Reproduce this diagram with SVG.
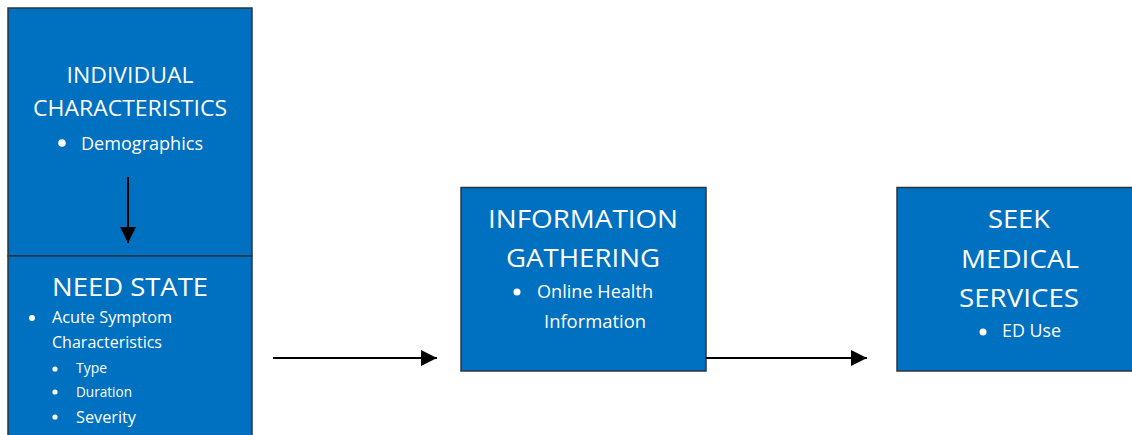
<svg xmlns="http://www.w3.org/2000/svg" width="1132" height="435" viewBox="0 0 1132 435">
  <style>
    .box { fill: #0070C0; stroke: #2b3440; stroke-width: 1.5; }
    text { font-family: "Open Sans", "Noto Sans", "Liberation Sans", sans-serif; fill: #ffffff; }
    .h1 { font-size: 22px; text-anchor: middle; }
    .h2 { font-size: 26px; text-anchor: middle; }
    .b18 { font-size: 18px; }
    .b16 { font-size: 16px; }
    .b14 { font-size: 14px; }
    .dot { fill: #ffffff; }
    .conn { stroke: #000000; stroke-width: 2; fill: none; }
  </style>
  <defs>
    <marker id="arrow" markerWidth="8" markerHeight="8" refX="8" refY="4" orient="auto" markerUnits="strokeWidth">
      <path d="M0,0 L8,4 L0,8 Z" fill="#000000"/>
    </marker>
  </defs>

  <rect width="1132" height="435" fill="#ffffff"/>

  <!-- Individual characteristics -->
  <g id="individual">
    <rect class="box" x="8" y="8" width="244" height="248"/>
    <text class="h1" x="130" y="83" textLength="127" lengthAdjust="spacingAndGlyphs">INDIVIDUAL</text>
    <text class="h1" x="130" y="116" textLength="194" lengthAdjust="spacingAndGlyphs">CHARACTERISTICS</text>
    <circle class="dot" cx="62" cy="143" r="3.8"/>
    <text class="b18" x="81" y="150" textLength="122" lengthAdjust="spacingAndGlyphs">Demographics</text>
  </g>

  <!-- Need state -->
  <g id="need-state">
    <rect class="box" x="8" y="256" width="244" height="190"/>
    <text class="h2" x="130" y="296" textLength="156" lengthAdjust="spacingAndGlyphs">NEED STATE</text>
    <circle class="dot" cx="32" cy="318" r="3"/>
    <text class="b16" x="52" y="323" textLength="120" lengthAdjust="spacingAndGlyphs">Acute Symptom</text>
    <text class="b16" x="52" y="348" textLength="110" lengthAdjust="spacingAndGlyphs">Characteristics</text>
    <circle class="dot" cx="55" cy="369" r="2.6"/>
    <text class="b14" x="76" y="373" textLength="31" lengthAdjust="spacingAndGlyphs">Type</text>
    <circle class="dot" cx="55" cy="392" r="2.6"/>
    <text class="b14" x="76" y="397" textLength="56" lengthAdjust="spacingAndGlyphs">Duration</text>
    <circle class="dot" cx="55" cy="417" r="2.6"/>
    <text class="b16" x="76" y="423" textLength="60" lengthAdjust="spacingAndGlyphs">Severity</text>
  </g>

  <!-- Information gathering -->
  <g id="information-gathering">
    <rect class="box" x="461" y="187.5" width="245" height="183.5"/>
    <text class="h2" x="583" y="228" textLength="190" lengthAdjust="spacingAndGlyphs">INFORMATION</text>
    <text class="h2" x="583" y="267" textLength="154" lengthAdjust="spacingAndGlyphs">GATHERING</text>
    <circle class="dot" cx="517" cy="292" r="3.5"/>
    <text class="b18" x="537" y="298" textLength="116" lengthAdjust="spacingAndGlyphs">Online Health</text>
    <text class="b18" x="544" y="328" textLength="102" lengthAdjust="spacingAndGlyphs">Information</text>
  </g>

  <!-- Seek medical services -->
  <g id="seek-medical-services">
    <rect class="box" x="897" y="187.5" width="240" height="183.5"/>
    <text class="h2" x="1019" y="228" textLength="62" lengthAdjust="spacingAndGlyphs">SEEK</text>
    <text class="h2" x="1020" y="268" textLength="118" lengthAdjust="spacingAndGlyphs">MEDICAL</text>
    <text class="h2" x="1019" y="307" textLength="120" lengthAdjust="spacingAndGlyphs">SERVICES</text>
    <circle class="dot" cx="983" cy="332" r="3.5"/>
    <text class="b18" x="1002" y="337" textLength="59" lengthAdjust="spacingAndGlyphs">ED Use</text>
  </g>

  <!-- Connectors -->
  <g id="connectors">
    <line class="conn" x1="128" y1="177" x2="128" y2="243" marker-end="url(#arrow)"/>
    <line class="conn" x1="273" y1="358" x2="437" y2="358" marker-end="url(#arrow)"/>
    <line class="conn" x1="706" y1="358" x2="867" y2="358" marker-end="url(#arrow)"/>
  </g>
</svg>
